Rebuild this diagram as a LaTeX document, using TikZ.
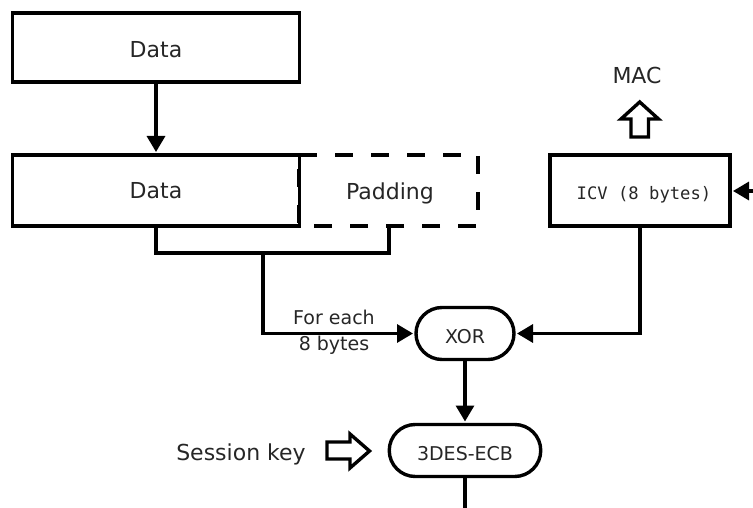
\documentclass[tikz,border=0pt]{standalone}
\usepackage{fontspec}
\setmainfont{DejaVu Sans}
\newfontfamily\icvfont{DejaVu Sans Mono}
\usetikzlibrary{arrows.meta,shapes.misc}
\definecolor{ink}{HTML}{000000}
\definecolor{txt}{HTML}{262626}
\tikzset{
  lbl/.style={text=txt,inner sep=0pt,outer sep=0pt,text height=16pt,text depth=0pt,font=\fontsize{22}{26}\selectfont},
  small/.style={lbl,text height=13.8pt,font=\fontsize{19}{23}\selectfont},
  boxn/.style={lbl,draw=ink,line width=3.4pt,minimum height=71pt},
  pill/.style={small,text height=19.8pt,rounded rectangle,draw=ink,line width=3.4pt,minimum height=52pt},
  conn/.style={draw=ink,line width=3.2pt},
  arr/.style={conn,shorten >=3pt,-{Triangle[length=16pt,width=18pt]}},
  block/.style={draw=ink,line width=3.4pt,fill=white,line join=miter},
  dashbox/.style={draw=ink,line width=3.4pt,dash pattern=on 18pt off 18pt}
}
\begin{document}
\begin{tikzpicture}[x=1pt,y=-1pt]
\useasboundingbox (0,0) rectangle (753,508);
% boxes
\node[boxn,minimum width=287pt,minimum height=69pt,text height=21pt] (data1) at (156,47.5) {Data};
\node[lbl,minimum width=179pt,minimum height=71pt,text height=19pt] (pad) at (388.5,190.5) {\hspace*{3pt}Padding};
\draw[dashbox] (pad.north west) -- (pad.north east) -- (pad.south east) -- (pad.south west) -- cycle;
\node[boxn,minimum width=287pt,text height=17pt] (data2) at (156,190.5) {Data};
\node[boxn,minimum width=180pt,text height=18pt,font=\icvfont\fontsize{17.2}{20}\selectfont] (icv) at (640,190.5) {\hspace*{8pt}ICV (8 bytes)};
\node[pill,minimum width=98pt] (xor) at (465,333.5) {XOR};
\node[pill,minimum width=151.5pt] (des) at (465,450.5) {3DES-ECB};
% labels
\node[lbl] (mac) at (637,76) {MAC};
\node[lbl] (skey) at (241,452) {Session key};
\node[small] (fe) at (334,318) {For each};
\node[small] (eb) at (334,344) {8 bytes};
% free ends
\coordinate (c3) at (263,253);
\coordinate (rightin) at (753,191);
\coordinate (bottomout) at (465,508);
\coordinate (padout) at (389,226);
% connectors
\draw[arr] (data1.south) -- (data2.north);
\draw[conn] (data2.south) |- (c3) -| (padout);
\draw[arr] (c3) |- (xor.west);
\draw[arr] (icv.south) |- (xor.east);
\draw[arr] (xor.south) -- (des.north);
\draw[conn] (des.south) -- (bottomout);
\draw[arr] (rightin) -- (rightin -| icv.east);
% block arrows
\draw[block] (631,137) -- (631,119) -- (621,119) -- (639.7,102) -- (658.5,119) -- (648.5,119) -- (648.5,137) -- cycle;
\draw[block] (327,442) -- (350,442) -- (350,434) -- (369.5,451) -- (350,468) -- (350,459) -- (327,459) -- cycle;
\end{tikzpicture}
\end{document}
